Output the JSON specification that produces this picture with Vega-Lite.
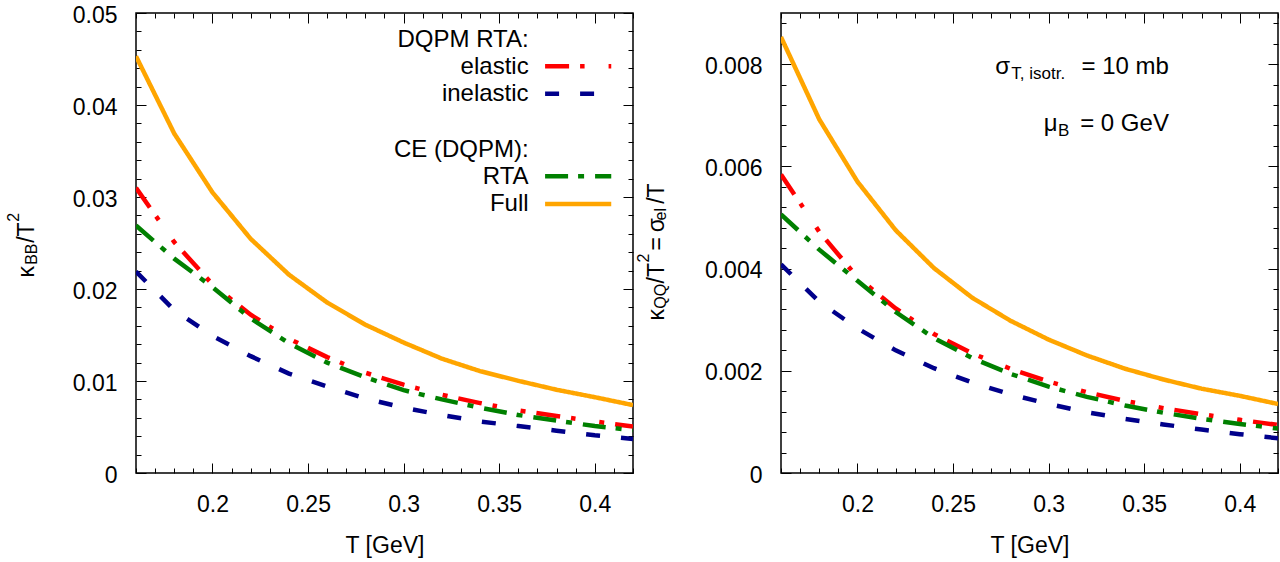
{
  "$schema": "https://vega.github.io/schema/vega-lite/v6.json",
  "background": "white",
  "padding": {"left": 5, "top": 3, "right": 2, "bottom": 2},
  "spacing": 148,
  "bounds": "flush",
  "config": {
    "font": "Liberation Sans",
    "view": {"stroke": "black", "strokeWidth": 1.5},
    "axis": {
      "grid": false, "domain": false,
      "labelFont": "Liberation Sans", "labelFontSize": 23, "labelColor": "black",
      "tickColor": "black", "tickWidth": 1,
      "titleFont": "Liberation Sans", "titleFontSize": 23, "titleFontWeight": "normal", "titleColor": "black",
      "labelFlush": false, "labelOverlap": false, "labelBound": false
    },
    "text": {"font": "Liberation Sans", "color": "black"}
  },
  "datasets": {
    "left": [
      {"series": "elastic", "T": 0.16, "v": 0.0310}, {"series": "elastic", "T": 0.18, "v": 0.0251}, {"series": "elastic", "T": 0.20, "v": 0.0205}, {"series": "elastic", "T": 0.22, "v": 0.0172}, {"series": "elastic", "T": 0.24, "v": 0.0146}, {"series": "elastic", "T": 0.26, "v": 0.0126}, {"series": "elastic", "T": 0.28, "v": 0.0109}, {"series": "elastic", "T": 0.30, "v": 0.0096}, {"series": "elastic", "T": 0.32, "v": 0.0085}, {"series": "elastic", "T": 0.34, "v": 0.0076}, {"series": "elastic", "T": 0.36, "v": 0.0068}, {"series": "elastic", "T": 0.38, "v": 0.0062}, {"series": "elastic", "T": 0.40, "v": 0.0056}, {"series": "elastic", "T": 0.42, "v": 0.00505},
      {"series": "inelastic", "T": 0.16, "v": 0.0219}, {"series": "inelastic", "T": 0.18, "v": 0.0177}, {"series": "inelastic", "T": 0.20, "v": 0.0149}, {"series": "inelastic", "T": 0.22, "v": 0.0127}, {"series": "inelastic", "T": 0.24, "v": 0.0108}, {"series": "inelastic", "T": 0.26, "v": 0.0094}, {"series": "inelastic", "T": 0.28, "v": 0.0081}, {"series": "inelastic", "T": 0.30, "v": 0.0071}, {"series": "inelastic", "T": 0.32, "v": 0.0063}, {"series": "inelastic", "T": 0.34, "v": 0.0056}, {"series": "inelastic", "T": 0.36, "v": 0.0051}, {"series": "inelastic", "T": 0.38, "v": 0.0046}, {"series": "inelastic", "T": 0.40, "v": 0.0041}, {"series": "inelastic", "T": 0.42, "v": 0.0037},
      {"series": "RTA", "T": 0.16, "v": 0.0269}, {"series": "RTA", "T": 0.18, "v": 0.0233}, {"series": "RTA", "T": 0.20, "v": 0.0202}, {"series": "RTA", "T": 0.22, "v": 0.0168}, {"series": "RTA", "T": 0.24, "v": 0.0141}, {"series": "RTA", "T": 0.26, "v": 0.0120}, {"series": "RTA", "T": 0.28, "v": 0.0104}, {"series": "RTA", "T": 0.30, "v": 0.0090}, {"series": "RTA", "T": 0.32, "v": 0.0080}, {"series": "RTA", "T": 0.34, "v": 0.0071}, {"series": "RTA", "T": 0.36, "v": 0.0063}, {"series": "RTA", "T": 0.38, "v": 0.0057}, {"series": "RTA", "T": 0.40, "v": 0.0051}, {"series": "RTA", "T": 0.42, "v": 0.00466},
      {"series": "Full", "T": 0.16, "v": 0.0453}, {"series": "Full", "T": 0.18, "v": 0.0369}, {"series": "Full", "T": 0.20, "v": 0.0305}, {"series": "Full", "T": 0.22, "v": 0.02545}, {"series": "Full", "T": 0.24, "v": 0.02156}, {"series": "Full", "T": 0.26, "v": 0.01853}, {"series": "Full", "T": 0.28, "v": 0.01612}, {"series": "Full", "T": 0.30, "v": 0.01418}, {"series": "Full", "T": 0.32, "v": 0.01243}, {"series": "Full", "T": 0.34, "v": 0.01107}, {"series": "Full", "T": 0.36, "v": 0.01002}, {"series": "Full", "T": 0.38, "v": 0.00905}, {"series": "Full", "T": 0.40, "v": 0.00824}, {"series": "Full", "T": 0.42, "v": 0.00738}
    ],
    "right": [
      {"series": "elastic", "T": 0.16, "v": 0.00584}, {"series": "elastic", "T": 0.18, "v": 0.00472}, {"series": "elastic", "T": 0.20, "v": 0.00383}, {"series": "elastic", "T": 0.22, "v": 0.00322}, {"series": "elastic", "T": 0.24, "v": 0.00272}, {"series": "elastic", "T": 0.26, "v": 0.00234}, {"series": "elastic", "T": 0.28, "v": 0.00204}, {"series": "elastic", "T": 0.30, "v": 0.00179}, {"series": "elastic", "T": 0.32, "v": 0.00158}, {"series": "elastic", "T": 0.34, "v": 0.00141}, {"series": "elastic", "T": 0.36, "v": 0.00127}, {"series": "elastic", "T": 0.38, "v": 0.00115}, {"series": "elastic", "T": 0.40, "v": 0.00104}, {"series": "elastic", "T": 0.42, "v": 0.00094},
      {"series": "inelastic", "T": 0.16, "v": 0.00408}, {"series": "inelastic", "T": 0.18, "v": 0.00335}, {"series": "inelastic", "T": 0.20, "v": 0.00283}, {"series": "inelastic", "T": 0.22, "v": 0.00240}, {"series": "inelastic", "T": 0.24, "v": 0.00205}, {"series": "inelastic", "T": 0.26, "v": 0.00177}, {"series": "inelastic", "T": 0.28, "v": 0.00154}, {"series": "inelastic", "T": 0.30, "v": 0.00135}, {"series": "inelastic", "T": 0.32, "v": 0.00119}, {"series": "inelastic", "T": 0.34, "v": 0.00106}, {"series": "inelastic", "T": 0.36, "v": 0.00095}, {"series": "inelastic", "T": 0.38, "v": 0.00085}, {"series": "inelastic", "T": 0.40, "v": 0.00076}, {"series": "inelastic", "T": 0.42, "v": 0.00068},
      {"series": "RTA", "T": 0.16, "v": 0.00506}, {"series": "RTA", "T": 0.18, "v": 0.00437}, {"series": "RTA", "T": 0.20, "v": 0.00376}, {"series": "RTA", "T": 0.22, "v": 0.00315}, {"series": "RTA", "T": 0.24, "v": 0.00264}, {"series": "RTA", "T": 0.26, "v": 0.00225}, {"series": "RTA", "T": 0.28, "v": 0.00194}, {"series": "RTA", "T": 0.30, "v": 0.00169}, {"series": "RTA", "T": 0.32, "v": 0.00149}, {"series": "RTA", "T": 0.34, "v": 0.00132}, {"series": "RTA", "T": 0.36, "v": 0.00118}, {"series": "RTA", "T": 0.38, "v": 0.00106}, {"series": "RTA", "T": 0.40, "v": 0.00096}, {"series": "RTA", "T": 0.42, "v": 0.00087},
      {"series": "Full", "T": 0.16, "v": 0.00853}, {"series": "Full", "T": 0.18, "v": 0.00692}, {"series": "Full", "T": 0.20, "v": 0.00570}, {"series": "Full", "T": 0.22, "v": 0.00475}, {"series": "Full", "T": 0.24, "v": 0.00401}, {"series": "Full", "T": 0.26, "v": 0.00343}, {"series": "Full", "T": 0.28, "v": 0.00298}, {"series": "Full", "T": 0.30, "v": 0.00261}, {"series": "Full", "T": 0.32, "v": 0.00230}, {"series": "Full", "T": 0.34, "v": 0.00204}, {"series": "Full", "T": 0.36, "v": 0.00183}, {"series": "Full", "T": 0.38, "v": 0.00165}, {"series": "Full", "T": 0.40, "v": 0.00151}, {"series": "Full", "T": 0.42, "v": 0.00135}
    ],
    "legendLines": [
      {"series": "elastic", "T": 0.37401, "v": 0.04420}, {"series": "elastic", "T": 0.40862, "v": 0.04420},
      {"series": "inelastic", "T": 0.37401, "v": 0.04121}, {"series": "inelastic", "T": 0.40862, "v": 0.04121},
      {"series": "RTA", "T": 0.37401, "v": 0.03226}, {"series": "RTA", "T": 0.40862, "v": 0.03226},
      {"series": "Full", "T": 0.37401, "v": 0.02923}, {"series": "Full", "T": 0.40862, "v": 0.02923}
    ],
    "legendText": [
      {"t": "DQPM RTA:", "T": 0.3654, "v": 0.04634},
      {"t": "elastic", "T": 0.3654, "v": 0.04342},
      {"t": "inelastic", "T": 0.3654, "v": 0.04043},
      {"t": "CE (DQPM):", "T": 0.3654, "v": 0.03440},
      {"t": "RTA", "T": 0.3654, "v": 0.03141},
      {"t": "Full", "T": 0.3654, "v": 0.02845}
    ],
    "leftTitleMain": [
      {"t": "κ", "T": 0.10689, "v": 0.021247},
      {"t": "/T", "T": 0.10689, "v": 0.025016}
    ],
    "leftTitleSub": [
      {"t": "BB", "T": 0.10820, "v": 0.022627}
    ],
    "leftTitleSup": [
      {"t": "2", "T": 0.09894, "v": 0.027297}
    ],
    "rightTitleMain": [
      {"t": "κ", "T": 0.09892, "v": 0.002984},
      {"t": "/T", "T": 0.09892, "v": 0.003708},
      {"t": "=", "T": 0.09892, "v": 0.004353},
      {"t": "σ", "T": 0.09892, "v": 0.004711},
      {"t": "/T", "T": 0.09892, "v": 0.005267}
    ],
    "rightTitleSub": [
      {"t": "QQ", "T": 0.09977, "v": 0.003213},
      {"t": "el", "T": 0.09977, "v": 0.004940}
    ],
    "rightTitleSup": [
      {"t": "2", "T": 0.09096, "v": 0.004118}
    ],
    "annoMainRight": [
      {"t": "= 10 mb", "T": 0.36293, "v": 0.00781},
      {"t": "= 0 GeV", "T": 0.36293, "v": 0.006701}
    ],
    "annoMainLeft": [
      {"t": "σ", "T": 0.27210, "v": 0.00781},
      {"t": "μ", "T": 0.29745, "v": 0.006701}
    ],
    "annoSub": [
      {"t": "T, isotr.", "T": 0.28048, "v": 0.007713},
      {"t": "B", "T": 0.30494, "v": 0.006603}
    ]
  },
  "hconcat": [
    {
      "width": 497,
      "height": 460,
      "resolve": {"axis": {"x": "independent", "y": "independent"}},
      "layer": [
        {
          "data": {"name": "left"},
          "mark": {"type": "line", "strokeWidth": 4.5, "strokeCap": "butt", "clip": true},
          "encoding": {
            "x": {"field": "T", "type": "quantitative", "scale": {"domain": [0.16, 0.42], "nice": false, "zero": false},
              "axis": {"orient": "bottom", "title": "T [GeV]", "titlePadding": 13,
                "values": [0.16,0.17,0.18,0.19,0.2,0.21,0.22,0.23,0.24,0.25,0.26,0.27,0.28,0.29,0.3,0.31,0.32,0.33,0.34,0.35,0.36,0.37,0.38,0.39,0.4,0.41,0.42],
                "format": ".2~f",
                "labelExpr": "abs(datum.value*20 - round(datum.value*20)) < 0.001 ? datum.label : ''",
                "tickSize": {"condition": {"test": "abs(datum.value*20 - round(datum.value*20)) < 0.001", "value": -10}, "value": -5},
                "labelPadding": 30}},
            "y": {"field": "v", "type": "quantitative", "scale": {"domain": [0, 0.05], "nice": false, "zero": true},
              "axis": {"orient": "left", "title": null,
                "values": [0,0.002,0.004,0.006,0.008,0.01,0.012,0.014,0.016,0.018,0.02,0.022,0.024,0.026,0.028,0.03,0.032,0.034,0.036,0.038,0.04,0.042,0.044,0.046,0.048,0.05],
                "format": ".2~f",
                "labelExpr": "abs(datum.value*100 - round(datum.value*100)) < 0.001 ? datum.label : ''",
                "tickSize": {"condition": {"test": "abs(datum.value*100 - round(datum.value*100)) < 0.001", "value": -10}, "value": -5},
                "labelPadding": 29, "labelOffset": 2}},
            "color": {"field": "series", "type": "nominal", "scale": {"domain": ["elastic", "inelastic", "RTA", "Full"], "range": ["#ff0000", "#00008b", "#008000", "#ffa500"]}, "legend": null},
            "strokeDash": {"field": "series", "type": "nominal", "scale": {"domain": ["elastic", "inelastic", "RTA", "Full"], "range": [[24, 11, 4.5, 24, 5, 11], [14, 21], [23, 10, 6, 11], [1, 0]]}, "legend": null}
          }
        },
        {
          "data": {"name": "left"},
          "mark": {"type": "point", "opacity": 0},
          "encoding": {
            "x": {"field": "T", "type": "quantitative", "scale": {"domain": [0.16, 0.42], "nice": false, "zero": false},
              "axis": {"orient": "top", "title": null, "labels": false,
                "values": [0.16,0.17,0.18,0.19,0.2,0.21,0.22,0.23,0.24,0.25,0.26,0.27,0.28,0.29,0.3,0.31,0.32,0.33,0.34,0.35,0.36,0.37,0.38,0.39,0.4,0.41,0.42],
                "tickSize": {"condition": {"test": "abs(datum.value*20 - round(datum.value*20)) < 0.001", "value": -10}, "value": -5}}},
            "y": {"field": "v", "type": "quantitative", "scale": {"domain": [0, 0.05], "nice": false, "zero": true},
              "axis": {"orient": "right", "title": null, "labels": false,
                "values": [0,0.002,0.004,0.006,0.008,0.01,0.012,0.014,0.016,0.018,0.02,0.022,0.024,0.026,0.028,0.03,0.032,0.034,0.036,0.038,0.04,0.042,0.044,0.046,0.048,0.05],
                "tickSize": {"condition": {"test": "abs(datum.value*100 - round(datum.value*100)) < 0.001", "value": -10}, "value": -5}}}
          }
        },
        {
          "data": {"name": "legendLines"},
          "mark": {"type": "line", "strokeWidth": 4.5, "strokeCap": "butt"},
          "encoding": {
            "x": {"field": "T", "type": "quantitative", "scale": {"domain": [0.16, 0.42], "nice": false, "zero": false}, "axis": null},
            "y": {"field": "v", "type": "quantitative", "scale": {"domain": [0, 0.05], "nice": false, "zero": true}, "axis": null},
            "color": {"field": "series", "type": "nominal", "legend": null},
            "strokeDash": {"field": "series", "type": "nominal", "legend": null}
          }
        },
        {
          "data": {"name": "legendText"},
          "mark": {"type": "text", "align": "right", "baseline": "alphabetic", "fontSize": 24, "font": "Liberation Sans", "color": "black"},
          "encoding": {
            "x": {"field": "T", "type": "quantitative", "scale": {"domain": [0.16, 0.42], "nice": false, "zero": false}, "axis": null},
            "y": {"field": "v", "type": "quantitative", "scale": {"domain": [0, 0.05], "nice": false, "zero": true}, "axis": null},
            "text": {"field": "t"}
          }
        },
        {
          "data": {"name": "leftTitleMain"},
          "mark": {"type": "text", "angle": 270, "align": "left", "baseline": "alphabetic", "fontSize": 23, "font": "Liberation Sans", "color": "black"},
          "encoding": {
            "x": {"field": "T", "type": "quantitative", "scale": {"domain": [0.16, 0.42], "nice": false, "zero": false}, "axis": null},
            "y": {"field": "v", "type": "quantitative", "scale": {"domain": [0, 0.05], "nice": false, "zero": true}, "axis": null},
            "text": {"field": "t"}
          }
        },
        {
          "data": {"name": "leftTitleSub"},
          "mark": {"type": "text", "angle": 270, "align": "left", "baseline": "alphabetic", "fontSize": 16, "font": "Liberation Sans", "color": "black"},
          "encoding": {
            "x": {"field": "T", "type": "quantitative", "scale": {"domain": [0.16, 0.42], "nice": false, "zero": false}, "axis": null},
            "y": {"field": "v", "type": "quantitative", "scale": {"domain": [0, 0.05], "nice": false, "zero": true}, "axis": null},
            "text": {"field": "t"}
          }
        },
        {
          "data": {"name": "leftTitleSup"},
          "mark": {"type": "text", "angle": 270, "align": "left", "baseline": "alphabetic", "fontSize": 16, "font": "Liberation Sans", "color": "black"},
          "encoding": {
            "x": {"field": "T", "type": "quantitative", "scale": {"domain": [0.16, 0.42], "nice": false, "zero": false}, "axis": null},
            "y": {"field": "v", "type": "quantitative", "scale": {"domain": [0, 0.05], "nice": false, "zero": true}, "axis": null},
            "text": {"field": "t"}
          }
        }
      ]
    },
    {
      "width": 497,
      "height": 460,
      "resolve": {"axis": {"x": "independent", "y": "independent"}},
      "layer": [
        {
          "data": {"name": "right"},
          "mark": {"type": "line", "strokeWidth": 4.5, "strokeCap": "butt", "clip": true},
          "encoding": {
            "x": {"field": "T", "type": "quantitative", "scale": {"domain": [0.16, 0.42], "nice": false, "zero": false},
              "axis": {"orient": "bottom", "title": "T [GeV]", "titlePadding": 13,
                "values": [0.16,0.17,0.18,0.19,0.2,0.21,0.22,0.23,0.24,0.25,0.26,0.27,0.28,0.29,0.3,0.31,0.32,0.33,0.34,0.35,0.36,0.37,0.38,0.39,0.4,0.41,0.42],
                "format": ".2~f",
                "labelExpr": "abs(datum.value*20 - round(datum.value*20)) < 0.001 ? datum.label : ''",
                "tickSize": {"condition": {"test": "abs(datum.value*20 - round(datum.value*20)) < 0.001", "value": -10}, "value": -5},
                "labelPadding": 30}},
            "y": {"field": "v", "type": "quantitative", "scale": {"domain": [0, 0.009], "nice": false, "zero": true},
              "axis": {"orient": "left", "title": null,
                "values": [0,0.0004,0.0008,0.0012,0.0016,0.002,0.0024,0.0028,0.0032,0.0036,0.004,0.0044,0.0048,0.0052,0.0056,0.006,0.0064,0.0068,0.0072,0.0076,0.008,0.0084,0.0088],
                "format": ".3~f",
                "labelExpr": "abs(datum.value*500 - round(datum.value*500)) < 0.001 ? datum.label : ''",
                "tickSize": {"condition": {"test": "abs(datum.value*500 - round(datum.value*500)) < 0.001", "value": -10}, "value": -5},
                "labelPadding": 29, "labelOffset": 2}},
            "color": {"field": "series", "type": "nominal", "scale": {"domain": ["elastic", "inelastic", "RTA", "Full"], "range": ["#ff0000", "#00008b", "#008000", "#ffa500"]}, "legend": null},
            "strokeDash": {"field": "series", "type": "nominal", "scale": {"domain": ["elastic", "inelastic", "RTA", "Full"], "range": [[24, 11, 4.5, 24, 5, 11], [14, 21], [23, 10, 6, 11], [1, 0]]}, "legend": null}
          }
        },
        {
          "data": {"name": "right"},
          "mark": {"type": "point", "opacity": 0},
          "encoding": {
            "x": {"field": "T", "type": "quantitative", "scale": {"domain": [0.16, 0.42], "nice": false, "zero": false},
              "axis": {"orient": "top", "title": null, "labels": false,
                "values": [0.16,0.17,0.18,0.19,0.2,0.21,0.22,0.23,0.24,0.25,0.26,0.27,0.28,0.29,0.3,0.31,0.32,0.33,0.34,0.35,0.36,0.37,0.38,0.39,0.4,0.41,0.42],
                "tickSize": {"condition": {"test": "abs(datum.value*20 - round(datum.value*20)) < 0.001", "value": -10}, "value": -5}}},
            "y": {"field": "v", "type": "quantitative", "scale": {"domain": [0, 0.009], "nice": false, "zero": true},
              "axis": {"orient": "right", "title": null, "labels": false,
                "values": [0,0.0004,0.0008,0.0012,0.0016,0.002,0.0024,0.0028,0.0032,0.0036,0.004,0.0044,0.0048,0.0052,0.0056,0.006,0.0064,0.0068,0.0072,0.0076,0.008,0.0084,0.0088],
                "tickSize": {"condition": {"test": "abs(datum.value*500 - round(datum.value*500)) < 0.001", "value": -10}, "value": -5}}}
          }
        },
        {
          "data": {"name": "annoMainRight"},
          "mark": {"type": "text", "align": "right", "baseline": "alphabetic", "fontSize": 24, "font": "Liberation Sans", "color": "black"},
          "encoding": {
            "x": {"field": "T", "type": "quantitative", "scale": {"domain": [0.16, 0.42], "nice": false, "zero": false}, "axis": null},
            "y": {"field": "v", "type": "quantitative", "scale": {"domain": [0, 0.009], "nice": false, "zero": true}, "axis": null},
            "text": {"field": "t"}
          }
        },
        {
          "data": {"name": "annoMainLeft"},
          "mark": {"type": "text", "align": "left", "baseline": "alphabetic", "fontSize": 24, "font": "Liberation Sans", "color": "black"},
          "encoding": {
            "x": {"field": "T", "type": "quantitative", "scale": {"domain": [0.16, 0.42], "nice": false, "zero": false}, "axis": null},
            "y": {"field": "v", "type": "quantitative", "scale": {"domain": [0, 0.009], "nice": false, "zero": true}, "axis": null},
            "text": {"field": "t"}
          }
        },
        {
          "data": {"name": "annoSub"},
          "mark": {"type": "text", "align": "left", "baseline": "alphabetic", "fontSize": 17, "font": "Liberation Sans", "color": "black"},
          "encoding": {
            "x": {"field": "T", "type": "quantitative", "scale": {"domain": [0.16, 0.42], "nice": false, "zero": false}, "axis": null},
            "y": {"field": "v", "type": "quantitative", "scale": {"domain": [0, 0.009], "nice": false, "zero": true}, "axis": null},
            "text": {"field": "t"}
          }
        },
        {
          "data": {"name": "rightTitleMain"},
          "mark": {"type": "text", "angle": 270, "align": "left", "baseline": "alphabetic", "fontSize": 23, "font": "Liberation Sans", "color": "black"},
          "encoding": {
            "x": {"field": "T", "type": "quantitative", "scale": {"domain": [0.16, 0.42], "nice": false, "zero": false}, "axis": null},
            "y": {"field": "v", "type": "quantitative", "scale": {"domain": [0, 0.009], "nice": false, "zero": true}, "axis": null},
            "text": {"field": "t"}
          }
        },
        {
          "data": {"name": "rightTitleSub"},
          "mark": {"type": "text", "angle": 270, "align": "left", "baseline": "alphabetic", "fontSize": 16, "font": "Liberation Sans", "color": "black"},
          "encoding": {
            "x": {"field": "T", "type": "quantitative", "scale": {"domain": [0.16, 0.42], "nice": false, "zero": false}, "axis": null},
            "y": {"field": "v", "type": "quantitative", "scale": {"domain": [0, 0.009], "nice": false, "zero": true}, "axis": null},
            "text": {"field": "t"}
          }
        },
        {
          "data": {"name": "rightTitleSup"},
          "mark": {"type": "text", "angle": 270, "align": "left", "baseline": "alphabetic", "fontSize": 16, "font": "Liberation Sans", "color": "black"},
          "encoding": {
            "x": {"field": "T", "type": "quantitative", "scale": {"domain": [0.16, 0.42], "nice": false, "zero": false}, "axis": null},
            "y": {"field": "v", "type": "quantitative", "scale": {"domain": [0, 0.009], "nice": false, "zero": true}, "axis": null},
            "text": {"field": "t"}
          }
        }
      ]
    }
  ]
}
